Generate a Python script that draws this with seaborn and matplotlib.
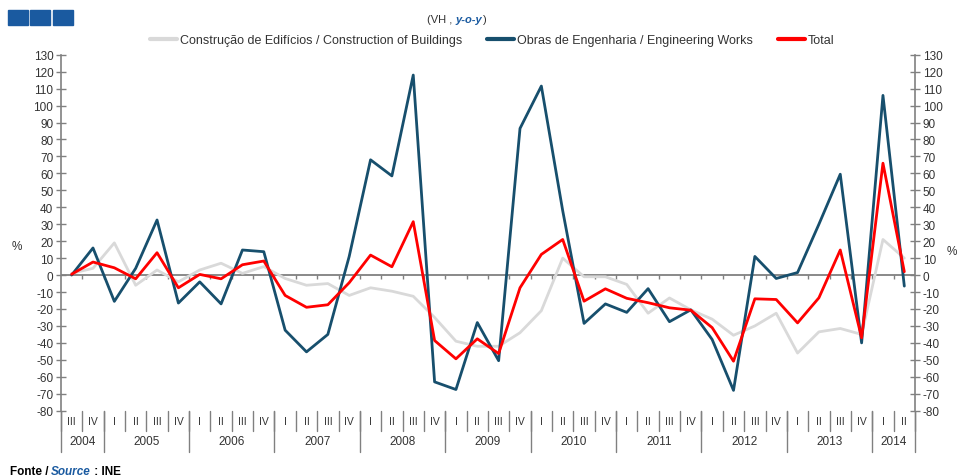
import numpy as np
import pandas as pd
import matplotlib
matplotlib.use("Agg")
import matplotlib.pyplot as plt
from matplotlib.patches import Rectangle
import seaborn as sns

quarters = ["III", "IV"] + ["I", "II", "III", "IV"] * 9 + ["I", "II"]
years = ["2004", "2005", "2006", "2007", "2008", "2009", "2010", "2011", "2012", "2013", "2014"]
year_sizes = [2, 4, 4, 4, 4, 4, 4, 4, 4, 4, 2]

buildings = [1, 4, 19, -6, 3, -4, 3, 7, 1, 5,
             -2, -6, -5, -12, -7.5, -9.5, -12.5, -25, -39, -42,
             -42, -34, -21, 10, -1, -1, -5.5, -22.5, -13.5, -20.5,
             -26, -35.5, -30, -22.5, -46, -33.5, -31.5, -35, 21, 10]
engineering = [0, 16, -15.5, 4, 32.5, -16.5, -4, -17, 14.8, 13.8,
               -32.5, -45.3, -35, 11, 68, 58.5, 118, -63, -67.5, -28,
               -50.5, 86.5, 111.5, 38, -28.5, -17, -22, -8, -27.5, -20.5,
               -38, -68, 11, -2, 1.5, 30, 59.5, -40, 106, -6.5]
total = [0.5, 7.7, 4.3, -2.2, 13.2, -7.5, 0.4, -2.2, 6.1, 8.3,
         -12, -19, -17.5, -4.5, 11.8, 4.9, 31.5, -38.6, -49.4, -37.6,
         -46.3, -7.5, 12.2, 21, -15.4, -8.1, -13.7, -16.3, -19.3, -20.7,
         -31, -50.8, -14, -14.4, -28.2, -13.4, 14.8, -37, 66, 2]

series_names = ["Construção de Edifícios / Construction of Buildings",
                "Obras de Engenharia / Engineering Works",
                "Total"]
colors = ["#d9d9d9", "#174f6d", "#ff0000"]

n = len(quarters)
df = pd.DataFrame({
    "pos": np.tile(np.arange(n), 3),
    "value": buildings + engineering + total,
    "serie": np.repeat(series_names, n),
})

sns.set_style("white")
plt.rcParams["font.family"] = ["Liberation Sans", "DejaVu Sans"]
plt.rcParams["axes.unicode_minus"] = False

fig = plt.figure(figsize=(9.57, 4.77), dpi=100)
ax = fig.add_axes([0.0637, 0.1369, 0.8924, 0.7463])

sns.lineplot(data=df, x="pos", y="value", hue="serie", hue_order=series_names,
             palette=dict(zip(series_names, colors)), linewidth=2.0, ax=ax,
             legend=False)

ax.set_xlim(-0.5, n - 0.5)
ax.set_ylim(-80, 130)
ax.set_yticks(np.arange(-80, 131, 10))
ax.set_xticks([])
ax.set_xlabel("")
ax.set_ylabel("")
ax.axhline(0, color="#808080", lw=1.3, zorder=1)
ax.vlines(np.arange(0.5, n - 0.5), -2.5, 0, color="#808080", lw=1, zorder=1)

for s in ["top", "bottom"]:
    ax.spines[s].set_visible(False)
for s in ["left", "right"]:
    ax.spines[s].set_color("#808080")
    ax.spines[s].set_linewidth(1.2)
ax.tick_params(axis="y", which="both", direction="inout", length=7, width=1,
               color="#808080", left=True, right=True, labelleft=True,
               labelright=True, labelsize=8.5, labelcolor="#333333", pad=2)

# category axis below the plot
trans = ax.get_xaxis_transform()
for k in range(n + 1):
    ax.plot([k - 0.5, k - 0.5], [0, -0.057], transform=trans, color="#808080",
            lw=1, clip_on=False)
for k, q in enumerate(quarters):
    ax.text(k, -0.028, q, transform=trans, ha="center", va="center",
            fontsize=7.5, color="#333333")
start = 0
for y, size in zip(years, year_sizes):
    ax.plot([start - 0.5, start - 0.5], [0, -0.115], transform=trans,
            color="#808080", lw=1, clip_on=False)
    ax.text(start + size / 2 - 0.5, -0.085, y, transform=trans, ha="center",
            va="center", fontsize=8.5, color="#333333")
    start += size
ax.plot([n - 0.5, n - 0.5], [0, -0.115], transform=trans, color="#808080",
        lw=1, clip_on=False)

fig.text(0.018, 0.476, "%", fontsize=8.5, color="#333333", ha="center")
fig.text(0.995, 0.466, "%", fontsize=8.5, color="#333333", ha="center")

# legend
handles = [plt.Line2D([], [], color=c, lw=3) for c in colors]
fig.legend(handles, series_names, loc="center", bbox_to_anchor=(0.514, 0.914),
           ncol=3, frameon=False, fontsize=9, handlelength=2.2,
           handletextpad=0.2, columnspacing=2.0, labelcolor="#333333")

# subtitle
t1 = fig.text(0.476, 0.958, "(VH , ", fontsize=8, ha="right", va="center",
              color="#333333")
t2 = fig.text(0.476, 0.958, "y-o-y", fontsize=8, ha="left", va="center",
              color="#1a5aa0", fontweight="bold", style="italic")
fig.canvas.draw()
bb = t2.get_window_extent()
fig.text(bb.x1 / fig.bbox.width + 0.001, 0.958, ")", fontsize=8, ha="left",
         va="center", color="#333333")

# logo squares
for x0 in [0.008, 0.031, 0.055]:
    fig.patches.append(Rectangle((x0, 0.945), 0.021, 0.032,
                                 transform=fig.transFigure,
                                 color="#1a5aa0"))

# footer
f1 = fig.text(0.01, 0.005, "Fonte / ", fontsize=8.5, fontweight="bold",
              color="black")
fig.canvas.draw()
b1 = f1.get_window_extent()
f2 = fig.text(b1.x1 / fig.bbox.width, 0.005, "Source", fontsize=8.5,
              fontweight="bold", style="italic", color="#1a5aa0")
fig.canvas.draw()
b2 = f2.get_window_extent()
fig.text(b2.x1 / fig.bbox.width, 0.005, " : INE", fontsize=8.5,
         fontweight="bold", color="black")

fig.savefig("out.png", dpi=100)
plt.close(fig)
